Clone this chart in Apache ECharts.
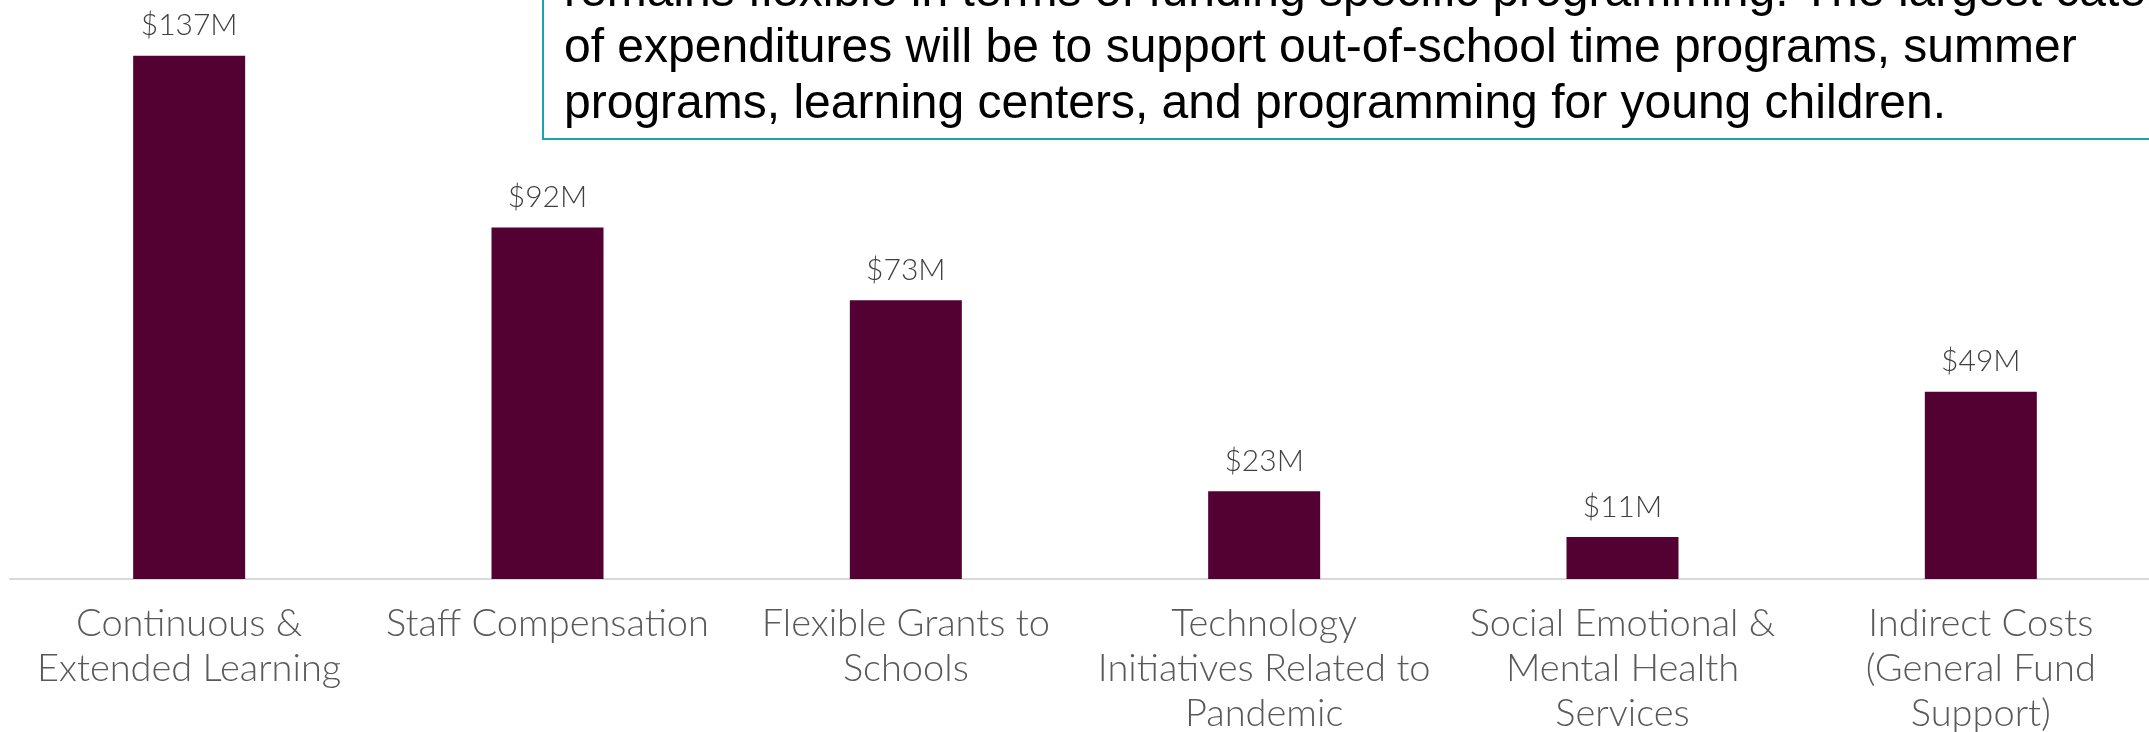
<!DOCTYPE html>
<html>
<head>
<meta charset="utf-8">
<style>
  html, body { margin: 0; padding: 0; background: #ffffff; overflow: hidden; }
  #chart { width: 2149px; height: 732px; }
</style>
<script src="https://cdn.jsdelivr.net/npm/echarts@6/dist/echarts.min.js"></script>
</head>
<body>
<div id="chart"></div>
<script>
// Spending categories (x axis), with the line breaks used on the axis
const categories = [
  'Continuous &\nExtended Learning',
  'Staff Compensation',
  'Flexible Grants to\nSchools',
  'Technology\nInitiatives Related to\nPandemic',
  'Social Emotional &\nMental Health\nServices',
  'Indirect Costs\n(General Fund\nSupport)'
];

// Planned expenditures, millions of dollars
const amounts = [137, 92, 73, 23, 11, 49];

// Callout text (its upper lines run past the top edge)
const noteLines = [
  'remains flexible in terms of funding specific programming. The largest category',
  'of expenditures will be to support out-of-school time programs, summer',
  'programs, learning centers, and programming for young children.'
];

const chart = echarts.init(document.getElementById('chart'), null, { renderer: 'canvas' });

const labelFont = 'Lato, "Noto Sans", sans-serif';

chart.setOption({
  animation: false,
  backgroundColor: '#ffffff',
  grid: {
    left: 10, top: 6, width: 2150, height: 573,
    containLabel: false,
    outerBoundsMode: 'none'
  },
  xAxis: {
    type: 'category',
    data: categories,
    axisLine: { show: true, lineStyle: { color: '#d9d9d9', width: 2 } },
    axisTick: { show: false },
    axisLabel: {
      interval: 0,
      margin: 22,
      fontSize: 38,
      lineHeight: 45,
      fontWeight: 300,
      fontFamily: labelFont,
      color: '#595959',
      hideOverlap: false
    }
  },
  yAxis: {
    type: 'value',
    min: 0,
    max: 150,
    show: false,
    splitLine: { show: false }
  },
  series: [{
    type: 'bar',
    data: amounts,
    barWidth: 112,
    itemStyle: { color: '#530033' },
    label: {
      show: true,
      position: 'top',
      distance: 15,
      formatter: p => '$' + p.value + 'M',
      fontSize: 30,
      fontWeight: 300,
      fontFamily: labelFont,
      color: '#404040'
    }
  }],
  graphic: [
    {
      type: 'rect',
      z: 100,
      shape: { x: 543, y: -200, width: 1700, height: 339 },
      style: { fill: '#ffffff', stroke: '#17a5b4', lineWidth: 2 }
    },
    {
      type: 'text',
      z: 101,
      x: 564,
      y: -35,
      style: {
        text: noteLines.join('\n'),
        font: '48px "Liberation Sans", Arial, sans-serif',
        lineHeight: 56,
        fill: '#000000',
        align: 'left',
        verticalAlign: 'top'
      }
    }
  ]
});
</script>
</body>
</html>
